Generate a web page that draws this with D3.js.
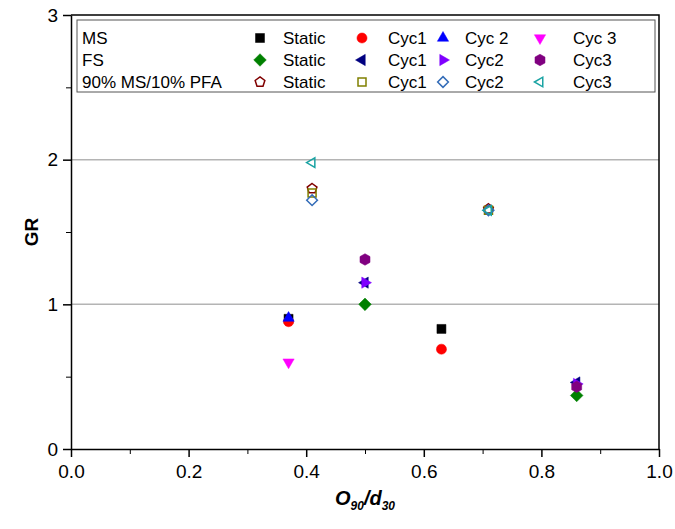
<!DOCTYPE html>
<html>
<head>
<meta charset="utf-8">
<script src="https://cdn.jsdelivr.net/npm/d3@7"></script>
<style>
  body { margin: 0; background: #fff; }
  text { font-family: "Liberation Sans", Arial, sans-serif; }
</style>
</head>
<body>
<div id="chart"></div>
<script>
// data: [O90/d30, GR]
const msStatic = [[0.37, 0.90], [0.63, 0.83]];
const msCyc1 = [[0.37, 0.88], [0.63, 0.69]];
const msCyc2 = [[0.37, 0.905]];
const msCyc3 = [[0.37, 0.60]];
const fsStatic = [[0.50, 1.00], [0.86, 0.37]];
const fsCyc1 = [[0.50, 1.15], [0.86, 0.46]];
const fsCyc2 = [[0.50, 1.15], [0.86, 0.45]];
const fsCyc3 = [[0.50, 1.31], [0.86, 0.43]];
const pfaStatic = [[0.41, 1.80], [0.71, 1.66]];
const pfaCyc1 = [[0.41, 1.77], [0.71, 1.65]];
const pfaCyc2 = [[0.41, 1.72], [0.71, 1.65]];
const pfaCyc3 = [[0.41, 1.98], [0.71, 1.65]];

const groups = ["MS", "FS", "90% MS/10% PFA"];
const msNames = ["Static", "Cyc1", "Cyc 2", "Cyc 3"];
const fsNames = ["Static", "Cyc1", "Cyc2", "Cyc3"];
const pfaNames = ["Static", "Cyc1", "Cyc2", "Cyc3"];
const xTicks = [0, 0.2, 0.4, 0.6, 0.8, 1.0];
const yTicks = [0, 1, 2, 3];

// series table with marker styles
const series = [
  {row: 0, col: 0, name: msNames[0], data: msStatic, shape: "square", color: "#000000", fill: true},
  {row: 0, col: 1, name: msNames[1], data: msCyc1, shape: "circle", color: "#ff0000", fill: true},
  {row: 0, col: 2, name: msNames[2], data: msCyc2, shape: "triUp", color: "#0000ff", fill: true},
  {row: 0, col: 3, name: msNames[3], data: msCyc3, shape: "triDown", color: "#ff00ff", fill: true},
  {row: 1, col: 0, name: fsNames[0], data: fsStatic, shape: "diamond", color: "#008000", fill: true},
  {row: 1, col: 1, name: fsNames[1], data: fsCyc1, shape: "triLeft", color: "#000080", fill: true},
  {row: 1, col: 2, name: fsNames[2], data: fsCyc2, shape: "triRight", color: "#7f00ff", fill: true},
  {row: 1, col: 3, name: fsNames[3], data: fsCyc3, shape: "hexagon", color: "#800080", fill: true},
  {row: 2, col: 0, name: pfaNames[0], data: pfaStatic, shape: "pentagon", color: "#800000", fill: false},
  {row: 2, col: 1, name: pfaNames[1], data: pfaCyc1, shape: "square", color: "#808000", fill: false},
  {row: 2, col: 2, name: pfaNames[2], data: pfaCyc2, shape: "diamond", color: "#336cb8", fill: false},
  {row: 2, col: 3, name: pfaNames[3], data: pfaCyc3, shape: "triLeft", color: "#1aa3a3", fill: false}
];

function poly(n, r, rot) {
  const pts = d3.range(n).map(i => {
    const a = rot + i * 2 * Math.PI / n;
    return [r * Math.cos(a), r * Math.sin(a)];
  });
  return "M" + pts.map(p => p[0].toFixed(2) + "," + p[1].toFixed(2)).join("L") + "Z";
}

function shapePath(shape, filled) {
  const k = filled ? 1 : 0.85;
  switch (shape) {
    case "square": return filled ? "M-4.5,-4.5H4.5V4.5H-4.5Z" : "M-4,-4H4V4H-4Z";
    case "circle": return d3.symbol(d3.symbolCircle, 80)();
    case "triUp": return poly(3, 6.5 * k, -Math.PI / 2);
    case "triDown": return poly(3, 6.5 * k, Math.PI / 2);
    case "triLeft": return poly(3, 6.5 * k, Math.PI);
    case "triRight": return poly(3, 6.5 * k, 0);
    case "diamond": return poly(4, 6.3 * k, -Math.PI / 2);
    case "pentagon": return poly(5, 6 * k, -Math.PI / 2);
    case "hexagon": return poly(6, 5.8, Math.PI / 2);
  }
}

const margin = {top: 15, right: 16, bottom: 80, left: 71},
      width = 675 - margin.left - margin.right,
      height = 529 - margin.top - margin.bottom;

const svg = d3.select("#chart")
  .append("svg")
    .attr("width", 675)
    .attr("height", 529)
  .append("g")
    .attr("transform", `translate(${margin.left},${margin.top})`);

const x = d3.scaleLinear().domain([0, 1]).range([0, width]);
const y = d3.scaleLinear().domain([0, 3]).range([height, 0]);

// grid lines
svg.append("g")
  .selectAll("line")
  .data([1, 2])
  .join("line")
    .attr("x1", 0).attr("x2", width)
    .attr("y1", d => y(d)).attr("y2", d => y(d))
    .attr("stroke", "#b4b4b4")
    .attr("stroke-width", 1.5);

// frame top / right
svg.append("path")
  .attr("d", `M0,0H${width}V${height}`)
  .attr("fill", "none")
  .attr("stroke", "#000")
  .attr("stroke-width", 1.5);

// minor ticks
svg.append("g")
  .attr("transform", `translate(0,${height})`)
  .call(d3.axisBottom(x).tickValues(d3.range(0.1, 1, 0.2)).tickSize(5).tickFormat(""))
  .call(g => g.select(".domain").remove());
svg.append("g")
  .call(d3.axisLeft(y).tickValues([0.5, 1.5, 2.5]).tickSize(5).tickFormat(""))
  .call(g => g.select(".domain").remove());

// major axes
const xAxis = svg.append("g")
  .attr("transform", `translate(0,${height})`)
  .call(d3.axisBottom(x).tickValues(xTicks).tickSize(8).tickSizeOuter(0).tickFormat(d3.format(".1f")));
const yAxis = svg.append("g")
  .call(d3.axisLeft(y).tickValues(yTicks).tickSize(8).tickSizeOuter(0).tickFormat(d3.format("d")));

[xAxis, yAxis].forEach(a => {
  a.selectAll("text")
    .style("font-size", "19px")
    .attr("fill", "#000");
  a.selectAll("line, path").attr("stroke", "#000").attr("stroke-width", 1.5);
});
xAxis.selectAll("text").attr("dy", "0.95em");
yAxis.selectAll("text").attr("dx", "-0.1em");

// axis titles
svg.append("text")
  .attr("transform", `translate(-33,${height / 2}) rotate(-90)`)
  .attr("text-anchor", "middle")
  .style("font-size", "19px")
  .style("font-weight", "bold")
  .text("GR");

const xt = svg.append("text")
  .attr("x", width / 2)
  .attr("y", height + 56)
  .attr("text-anchor", "middle")
  .style("font-size", "20px")
  .style("font-weight", "bold")
  .style("font-style", "italic");
xt.append("tspan").text("O");
xt.append("tspan").attr("dy", 5).style("font-size", "12px").text("90");
xt.append("tspan").attr("dy", -5).text("/d");
xt.append("tspan").attr("dy", 5).style("font-size", "12px").text("30");

// points
series.forEach(s => {
  svg.append("g")
    .selectAll("path")
    .data(s.data)
    .join("path")
      .attr("transform", d => `translate(${x(d[0])},${y(d[1])})`)
      .attr("d", shapePath(s.shape, s.fill))
      .attr("fill", s.fill ? s.color : "none")
      .attr("stroke", s.color)
      .attr("stroke-width", s.fill ? 0.5 : 1.5);
});

// legend
const lg = svg.append("g").attr("transform", "translate(6,5)");
lg.append("rect")
  .attr("width", 578).attr("height", 72)
  .attr("fill", "#fff")
  .attr("stroke", "#555")
  .attr("stroke-width", 1);

const rowY = [18, 40, 62];
const symX = [183, 285, 366, 463];
const txtX = [206, 311, 388, 496];

lg.selectAll(".grp")
  .data(groups)
  .join("text")
    .attr("x", 5)
    .attr("y", (d, i) => rowY[i])
    .attr("dy", "0.35em")
    .style("font-size", "17px")
    .text(d => d);

series.forEach(s => {
  lg.append("path")
    .attr("transform", `translate(${symX[s.col]},${rowY[s.row]})`)
    .attr("d", shapePath(s.shape, s.fill))
    .attr("fill", s.fill ? s.color : "none")
    .attr("stroke", s.color)
    .attr("stroke-width", s.fill ? 0.5 : 1.5);
  lg.append("text")
    .attr("x", txtX[s.col])
    .attr("y", rowY[s.row])
    .attr("dy", "0.35em")
    .style("font-size", "17px")
    .text(s.name);
});
</script>
</body>
</html>
